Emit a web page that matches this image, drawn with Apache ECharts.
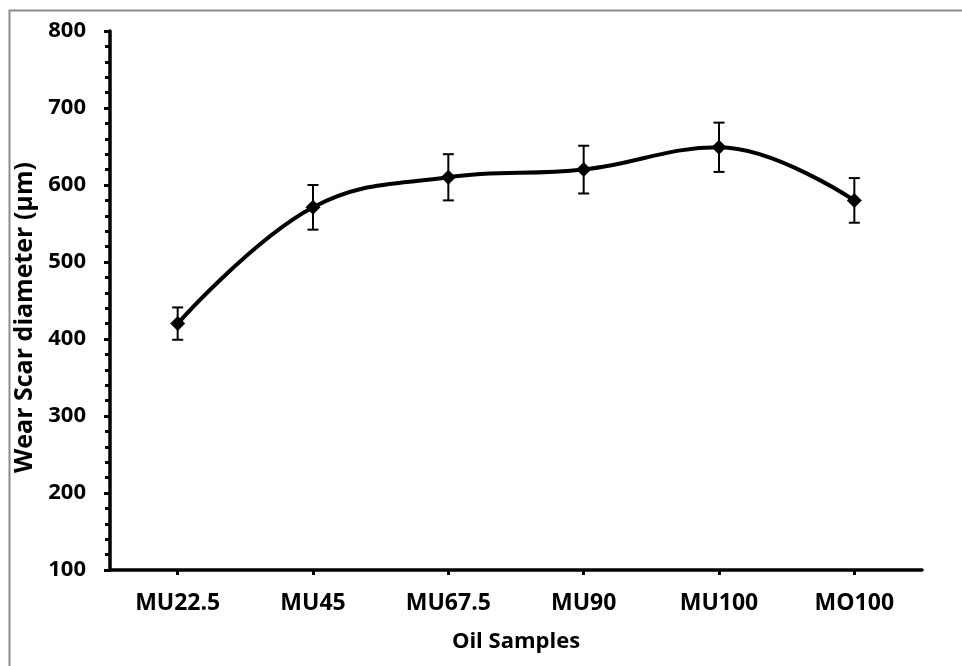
<!DOCTYPE html>
<html><head><meta charset="utf-8">
<script src="https://cdn.jsdelivr.net/npm/echarts@6/dist/echarts.min.js"></script>
<style>html,body{margin:0;padding:0;background:#fff}#c{width:962px;height:666px}</style>
</head><body><div id="c"></div>
<script>
var categories = ['MU22.5', 'MU45', 'MU67.5', 'MU90', 'MU100', 'MO100'];
var wearScar = [420, 571, 610, 620, 649, 580];
var errorSize = [21, 29, 30, 31, 32, 29];
var yTicks = [100, 200, 300, 400, 500, 600, 700, 800];

var errData = categories.map(function (c, i) {
  return [i, wearScar[i] - errorSize[i], wearScar[i] + errorSize[i]];
});
var FONT = 'Open Sans';
var chart = echarts.init(document.getElementById('c'), null, {renderer: 'canvas'});
chart.setOption({
  animation: false,
  backgroundColor: '#fff',
  graphic: [{
    type: 'rect', left: 7, top: 8, shape: {width: 1000, height: 700},
    style: {fill: 'none', stroke: '#8c8c8c', lineWidth: 2}, silent: true, z: -1
  }],
  grid: {left: 110, top: 31, right: 40, bottom: 96},
  xAxis: {
    type: 'category', data: categories, boundaryGap: true,
    name: 'Oil Samples', nameLocation: 'middle', nameGap: 61,
    nameTextStyle: {fontFamily: FONT, fontWeight: 'bold', fontSize: 22, color: '#000'},
    axisLine: {lineStyle: {color: '#000', width: 3.5}},
    axisTick: {show: true, alignWithLabel: true, length: 5, lineStyle: {color: '#000', width: 3}},
    axisLabel: {fontFamily: FONT, fontWeight: 'bold', fontSize: 23, color: '#000', margin: 22},
    splitLine: {show: false}
  },
  yAxis: {
    type: 'value', min: yTicks[0], max: yTicks[yTicks.length - 1], interval: 100,
    name: 'Wear Scar diameter (µm)', nameLocation: 'middle', nameGap: 68,
    nameTextStyle: {fontFamily: FONT, fontWeight: 'bold', fontSize: 25, color: '#000', padding: [0, 34, 0, 0]},
    axisLine: {show: true, lineStyle: {color: '#000', width: 3.5}},
    axisTick: {show: true, length: 6, lineStyle: {color: '#000', width: 3}},
    minorTick: {show: true, splitNumber: 5, length: 5, lineStyle: {color: '#000', width: 3}},
    axisLabel: {fontFamily: FONT, fontWeight: 'bold', fontSize: 22, color: '#000', margin: 24},
    splitLine: {show: false}
  },
  series: [{
    type: 'line', data: wearScar, smooth: 0.4,
    symbol: 'diamond', symbolSize: 15,
    lineStyle: {color: '#000', width: 4},
    itemStyle: {color: '#000'}, z: 3
  }, {
    type: 'custom', data: errData, z: 2,
    renderItem: function (params, api) {
      var x = api.value(0);
      var lo = api.coord([x, api.value(1)]);
      var hi = api.coord([x, api.value(2)]);
      var w = 5.5;
      var st = {stroke: '#000', lineWidth: 2, fill: 'none'};
      return {type: 'group', children: [
        {type: 'line', shape: {x1: lo[0], y1: lo[1], x2: hi[0], y2: hi[1]}, style: st},
        {type: 'line', shape: {x1: lo[0] - w, y1: lo[1], x2: lo[0] + w, y2: lo[1]}, style: st},
        {type: 'line', shape: {x1: hi[0] - w, y1: hi[1], x2: hi[0] + w, y2: hi[1]}, style: st}
      ]};
    }
  }]
});
</script></body></html>
